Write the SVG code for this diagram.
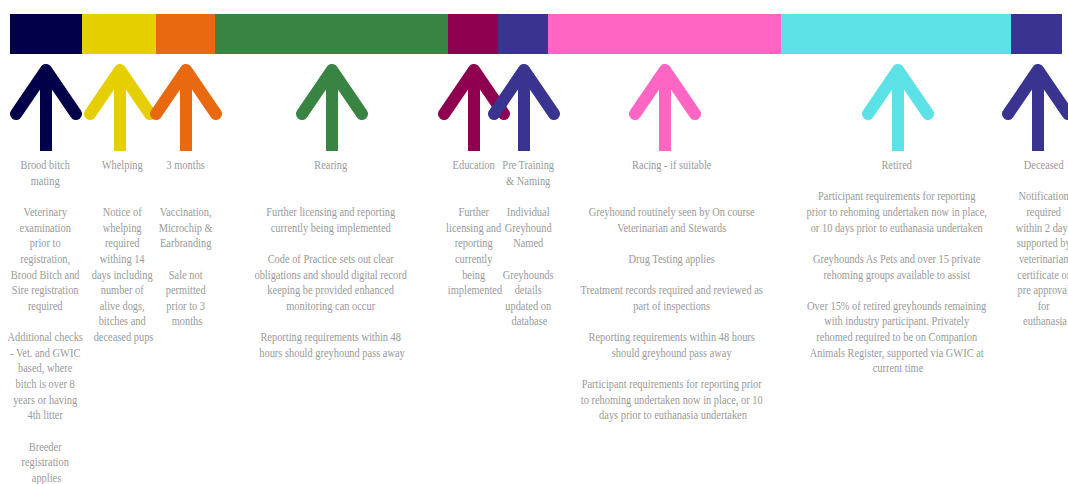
<svg xmlns="http://www.w3.org/2000/svg" width="1068" height="484" viewBox="0 0 1068 484">
<style>
  .t { font-family: "Liberation Serif", "Times New Roman", serif; font-size: 13px; fill: #9a9a9a; text-anchor: middle; }
  .arm { fill: none; stroke-width: 12; stroke-linecap: round; stroke-linejoin: round; }
  .shaft { fill: none; stroke-width: 12; stroke-linecap: butt; }
</style>
<defs>
  <g id="arrow">
    <line class="shaft" x1="0" y1="76" x2="0" y2="151"/>
    <polyline class="arm" points="-30,114 0,70 30,114"/>
  </g>
</defs>
<rect width="1068" height="484" fill="#ffffff"/>

<g id="bar">
  <rect x="10" y="14" width="72" height="40" fill="#03004a"/>
  <rect x="82" y="14" width="74" height="40" fill="#e6cf00"/>
  <rect x="156" y="14" width="59" height="40" fill="#e8690f"/>
  <rect x="215" y="14" width="233" height="40" fill="#3a8443"/>
  <rect x="448" y="14" width="50" height="40" fill="#8e004f"/>
  <rect x="498" y="14" width="50" height="40" fill="#3a3390"/>
  <rect x="548" y="14" width="233" height="40" fill="#ff66c4"/>
  <rect x="781" y="14" width="230" height="40" fill="#5ce1e6"/>
  <rect x="1011" y="14" width="51" height="40" fill="#3a3390"/>
</g>

<g id="connectors">
  <use href="#arrow" x="46" stroke="#03004a"/>
  <use href="#arrow" x="120" stroke="#e6cf00"/>
  <use href="#arrow" x="186" stroke="#e8690f"/>
  <use href="#arrow" x="332" stroke="#3a8443"/>
  <use href="#arrow" x="474" stroke="#8e004f"/>
  <use href="#arrow" x="524" stroke="#3a3390"/>
  <use href="#arrow" x="665" stroke="#ff66c4"/>
  <use href="#arrow" x="898" stroke="#5ce1e6"/>
  <use href="#arrow" x="1038" stroke="#3a3390"/>
</g>

<g id="node-brood" transform="translate(46.5 0) scale(0.8 1)">
  <text class="t">
    <tspan x="0" y="169">Brood bitch</tspan>
    <tspan x="0" y="184.65">mating</tspan>
    <tspan x="0" y="215.95">Veterinary</tspan>
    <tspan x="0" y="231.6">examination</tspan>
    <tspan x="0" y="247.25">prior to</tspan>
    <tspan x="0" y="262.9">registration,</tspan>
    <tspan x="0" y="278.55">Brood Bitch and</tspan>
    <tspan x="0" y="294.2">Sire registration</tspan>
    <tspan x="0" y="309.85">required</tspan>
    <tspan x="0" y="341.15">Additional checks</tspan>
    <tspan x="0" y="356.8">- Vet. and GWIC</tspan>
    <tspan x="0" y="372.45">based, where</tspan>
    <tspan x="0" y="388.1">bitch is over 8</tspan>
    <tspan x="0" y="403.75">years or having</tspan>
    <tspan x="0" y="419.4">4th litter</tspan>
    <tspan x="0" y="450.7">Breeder</tspan>
    <tspan x="0" y="466.35">registration</tspan>
    <tspan x="0" y="482">applies</tspan>
  </text>
</g>

<g id="node-whelping" transform="translate(123.5 0) scale(0.8 1)">
  <text class="t">
    <tspan x="0" y="169">Whelping</tspan>
    <tspan x="0" y="215.95">Notice of</tspan>
    <tspan x="0" y="231.6">whelping</tspan>
    <tspan x="0" y="247.25">required</tspan>
    <tspan x="0" y="262.9">withing 14</tspan>
    <tspan x="0" y="278.55">days including</tspan>
    <tspan x="0" y="294.2">number of</tspan>
    <tspan x="0" y="309.85">alive dogs,</tspan>
    <tspan x="0" y="325.5">bitches and</tspan>
    <tspan x="0" y="341.15">deceased pups</tspan>
  </text>
</g>

<g id="node-3months" transform="translate(187 0) scale(0.8 1)">
  <text class="t">
    <tspan x="0" y="169">3 months</tspan>
    <tspan x="0" y="215.95">Vaccination,</tspan>
    <tspan x="0" y="231.6">Microchip &amp;</tspan>
    <tspan x="0" y="247.25">Earbranding</tspan>
    <tspan x="0" y="278.55">Sale not</tspan>
    <tspan x="0" y="294.2">permitted</tspan>
    <tspan x="0" y="309.85">prior to 3</tspan>
    <tspan x="0" y="325.5">months</tspan>
  </text>
</g>

<g id="node-rearing" transform="translate(332 0) scale(0.8 1)">
  <text class="t">
    <tspan x="0" y="169">Rearing</tspan>
    <tspan x="0" y="215.95">Further licensing and reporting</tspan>
    <tspan x="0" y="231.6">currently being implemented</tspan>
    <tspan x="0" y="262.9">Code of Practice sets out clear</tspan>
    <tspan x="0" y="278.55">obligations and should digital record</tspan>
    <tspan x="0" y="294.2">keeping be provided enhanced</tspan>
    <tspan x="0" y="309.85">monitoring can occur</tspan>
    <tspan x="0" y="341.15">Reporting requirements within 48</tspan>
    <tspan x="0" y="356.8">hours should greyhound pass away</tspan>
  </text>
</g>

<g id="node-education" transform="translate(475 0) scale(0.8 1)">
  <text class="t">
    <tspan x="0" y="169">Education</tspan>
    <tspan x="0" y="215.95">Further</tspan>
    <tspan x="0" y="231.6">licensing and</tspan>
    <tspan x="0" y="247.25">reporting</tspan>
    <tspan x="0" y="262.9">currently</tspan>
    <tspan x="0" y="278.55">being</tspan>
    <tspan x="0" y="294.2">implemented</tspan>
  </text>
</g>

<g id="node-pretraining" transform="translate(529.5 0) scale(0.8 1)">
  <text class="t">
    <tspan x="0" y="169">Pre Training</tspan>
    <tspan x="0" y="184.65">&amp; Naming</tspan>
    <tspan x="0" y="215.95">Individual</tspan>
    <tspan x="0" y="231.6">Greyhound</tspan>
    <tspan x="0" y="247.25">Named</tspan>
    <tspan x="0" y="278.55">Greyhounds</tspan>
    <tspan x="0" y="294.2">details</tspan>
    <tspan x="0" y="309.85">updated on</tspan>
    <tspan x="0" y="325.5">database</tspan>
  </text>
</g>

<g id="node-racing" transform="translate(673 0) scale(0.8 1)">
  <text class="t">
    <tspan x="0" y="169">Racing - if suitable</tspan>
    <tspan x="0" y="215.95">Greyhound routinely seen by On course</tspan>
    <tspan x="0" y="231.6">Veterinarian and Stewards</tspan>
    <tspan x="0" y="262.9">Drug Testing applies</tspan>
    <tspan x="0" y="294.2">Treatment records required and reviewed as</tspan>
    <tspan x="0" y="309.85">part of inspections</tspan>
    <tspan x="0" y="341.15">Reporting requirements within 48 hours</tspan>
    <tspan x="0" y="356.8">should greyhound pass away</tspan>
    <tspan x="0" y="388.1">Participant requirements for reporting prior</tspan>
    <tspan x="0" y="403.75">to rehoming undertaken now in place, or 10</tspan>
    <tspan x="0" y="419.4">days prior to euthanasia undertaken</tspan>
  </text>
</g>

<g id="node-retired" transform="translate(898 0) scale(0.8 1)">
  <text class="t">
    <tspan x="0" y="169">Retired</tspan>
    <tspan x="0" y="200.3">Participant requirements for reporting</tspan>
    <tspan x="0" y="215.95">prior to rehoming undertaken now in place,</tspan>
    <tspan x="0" y="231.6">or 10 days prior to euthanasia undertaken</tspan>
    <tspan x="0" y="262.9">Greyhounds As Pets and over 15 private</tspan>
    <tspan x="0" y="278.55">rehoming groups available to assist</tspan>
    <tspan x="0" y="309.85">Over 15% of retired greyhounds remaining</tspan>
    <tspan x="0" y="325.5">with industry participant. Privately</tspan>
    <tspan x="0" y="341.15">rehomed required to be on Companion</tspan>
    <tspan x="0" y="356.8">Animals Register, supported via GWIC at</tspan>
    <tspan x="0" y="372.45">current time</tspan>
  </text>
</g>

<g id="node-deceased" transform="translate(1045 0) scale(0.8 1)">
  <text class="t">
    <tspan x="0" y="169">Deceased</tspan>
    <tspan x="0" y="200.3">Notification</tspan>
    <tspan x="0" y="215.95">required</tspan>
    <tspan x="0" y="231.6">within 2 days</tspan>
    <tspan x="0" y="247.25">supported by</tspan>
    <tspan x="0" y="262.9">veterinarian</tspan>
    <tspan x="0" y="278.55">certificate or</tspan>
    <tspan x="0" y="294.2">pre approval</tspan>
    <tspan x="0" y="309.85">for</tspan>
    <tspan x="0" y="325.5">euthanasia</tspan>
  </text>
</g>
</svg>
